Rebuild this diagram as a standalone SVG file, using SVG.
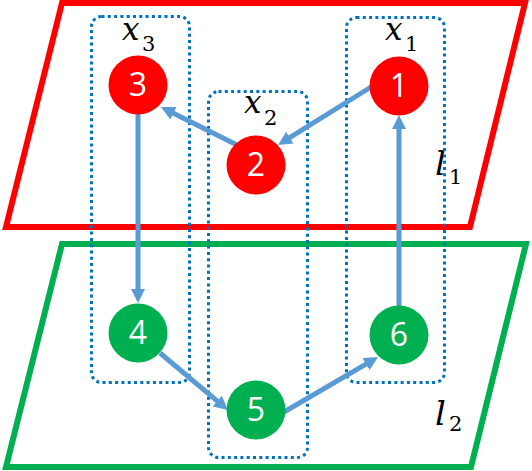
<svg xmlns="http://www.w3.org/2000/svg" width="532" height="471" viewBox="0 0 532 471">
<defs>
<style>
.plane{fill:none;stroke-width:6;stroke-linejoin:miter}
.group{fill:none;stroke:#0070C0;stroke-width:3;stroke-dasharray:3 3.3}
.edge{fill:none;stroke:#5B9BD5;stroke-width:5;marker-end:url(#arrow)}
.red{fill:#FF0000}
.green{fill:#00B050}
.num{font-family:"Open Sans","Noto Sans",sans-serif;font-size:32px;fill:#FFFFFF;text-anchor:middle}
.var{font-family:"DejaVu Serif",serif;font-style:italic;font-size:31px;fill:#000000}
.lvar{font-family:"DejaVu Serif",serif;font-style:italic;font-size:34px;fill:#000000}
.sub{font-family:"DejaVu Serif",serif;font-size:21px;fill:#000000}
</style>
<marker id="arrow" markerUnits="userSpaceOnUse" markerWidth="16" markerHeight="16" refX="4" refY="7" orient="auto">
<path d="M0,0 L14,7 L0,14 z" fill="#5B9BD5"/>
</marker>
</defs>
<g id="plane-l1">
<polygon class="plane" points="62,3 525,3 470,227 6,227" stroke="#FF0000"/>
<text class="lvar" x="435" y="175">l</text><text class="sub" x="449" y="184">1</text>
</g>
<g id="plane-l2">
<polygon class="plane" points="62,244 526,244 471,467 6,467" stroke="#00B050"/>
<text class="lvar" x="435" y="425">l</text><text class="sub" x="449" y="431">2</text>
</g>
<g id="group-x3">
<rect class="group" x="91.5" y="16.5" width="98" height="366" rx="10"/>
<text class="var" x="122" y="40">x</text><text class="sub" x="142" y="51">3</text>
</g>
<g id="group-x2">
<rect class="group" x="208.5" y="91.5" width="99" height="366" rx="10"/>
<text class="var" x="244" y="113">x</text><text class="sub" x="264" y="125">2</text>
</g>
<g id="group-x1">
<rect class="group" x="346.5" y="17.5" width="98" height="365" rx="10"/>
<text class="var" x="385" y="40">x</text><text class="sub" x="405" y="51">1</text>
</g>
<g id="connectors">
<line class="edge" x1="371" y1="87" x2="286.5" y2="139.7"/>
<line class="edge" x1="237" y1="145" x2="169.9" y2="111.5"/>
<line class="edge" x1="138" y1="114" x2="138" y2="293"/>
<line class="edge" x1="160" y1="353" x2="220.3" y2="403.6"/>
<line class="edge" x1="284" y1="412" x2="369.4" y2="362.1"/>
<line class="edge" x1="399" y1="306" x2="399" y2="125"/>
</g>
<g id="node-1"><circle class="red" cx="399" cy="86" r="29.5"/><text class="num" x="399" y="97">1</text></g>
<g id="node-2"><circle class="red" cx="256" cy="165" r="29.5"/><text class="num" x="256" y="176">2</text></g>
<g id="node-3"><circle class="red" cx="138" cy="85" r="29.5"/><text class="num" x="138" y="96">3</text></g>
<g id="node-4"><circle class="green" cx="138" cy="333" r="29.5"/><text class="num" x="138" y="344">4</text></g>
<g id="node-5"><circle class="green" cx="256" cy="410" r="29.5"/><text class="num" x="256" y="421">5</text></g>
<g id="node-6"><circle class="green" cx="399" cy="335" r="29.5"/><text class="num" x="399" y="346">6</text></g>
</svg>
